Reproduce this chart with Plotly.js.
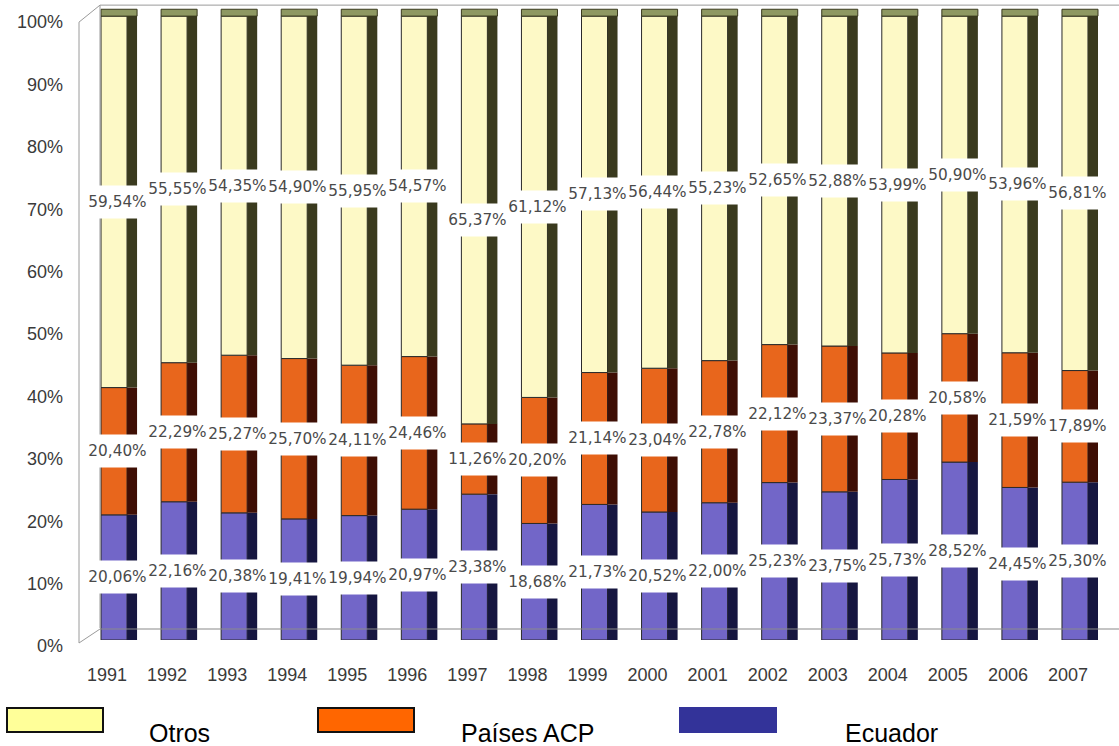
<!DOCTYPE html>
<html><head><meta charset="utf-8">
<script src="https://cdn.plot.ly/plotly-3.0.1.min.js"></script>
<style>body{margin:0;background:#fff}</style>
</head><body><div id="chart" style="width:1119px;height:746px"></div>
<script>
const years = ['1991','1992','1993','1994','1995','1996','1997','1998','1999','2000','2001','2002','2003','2004','2005','2006','2007'];
const ecuador = [20.06,22.16,20.38,19.41,19.94,20.97,23.38,18.68,21.73,20.52,22.00,25.23,23.75,25.73,28.52,24.45,25.30];
const acp     = [20.40,22.29,25.27,25.70,24.11,24.46,11.26,20.20,21.14,23.04,22.78,22.12,23.37,20.28,20.58,21.59,17.89];
const otros   = [59.54,55.55,54.35,54.90,55.95,54.57,65.37,61.12,57.13,56.44,55.23,52.65,52.88,53.99,50.90,53.96,56.81];
const seriesNames = ['Otros','Países ACP','Ecuador'];
const yTickVals = [0,10,20,30,40,50,60,70,80,90,100];
const yTickText = ['0%','10%','20%','30%','40%','50%','60%','70%','80%','90%','100%'];

const fmt = v => v.toFixed(2).replace('.', ',') + '%';
const baseE = years.map(() => 0);
const baseA = ecuador.slice();
const baseO = ecuador.map((v, i) => v + acp[i]);
const totals = baseO.map((v, i) => v + otros[i]);

const FW = 0.433, SW = 0.167, CAP = 1.1;
function front(vals, base, color) {
  return {type:'bar', x:years, y:vals, base:base, width:FW, offset:-FW/2,
    marker:{color:color, line:{color:'#2a2a2a', width:1}}, showlegend:false, hoverinfo:'skip'};
}
function side(vals, base, color) {
  return {type:'bar', x:years, y:vals, base:base, width:SW, offset:FW/2,
    marker:{color:color, line:{color:color, width:0}}, showlegend:false, hoverinfo:'skip'};
}
const traces = [
  front(ecuador, baseE, '#7266c8'), side(ecuador, baseE, '#161640'),
  front(acp, baseA, '#e8661c'), side(acp, baseA, '#3e0e04'),
  front(otros, baseO, '#fdf9c6'), side(otros, baseO, '#3a3a1e'),
  {type:'bar', x:years, y:years.map(() => CAP), base:totals, width:FW + SW, offset:-FW/2,
    marker:{color:'#8e9862', line:{color:'#3a3a1e', width:1}}, showlegend:false, hoverinfo:'skip'}
];

// geometry helpers (pixel -> paper)
const YMAX = 101.3;
const L = 84, W = 1021, B0 = 640, H = 624 * YMAX / 100, T = B0 - H;
const px = p => (p - L) / W;
const py = p => (B0 - p) / H;

const annotations = [];
const groups = [[ecuador, baseE], [acp, baseA], [otros, baseO]];
groups.forEach(([vals, base]) => {
  vals.forEach((v, i) => {
    annotations.push({x: i, y: base[i] + v / 2, xref:'x', yref:'y', text: fmt(v),
      showarrow:false, bgcolor:'#ffffff', width:59, height:32, borderpad:0, xshift:3,
      font:{family:'DejaVu Sans', size:15.3, color:'#4a4a4a'}});
  });
});

const gray = {color:'#9a9a9a', width:1};
const shapes = [
  {type:'line', xref:'paper', yref:'paper', x0:px(100), x1:px(100), y0:py(628), y1:py(5), line:gray},
  {type:'line', xref:'paper', yref:'paper', x0:px(100), x1:px(1119), y0:py(5), y1:py(5), line:gray},
  {type:'line', xref:'paper', yref:'paper', x0:px(100), x1:px(1119), y0:py(629), y1:py(629), line:{color:'#8a8a8a', width:1.2}},
  {type:'line', xref:'paper', yref:'paper', x0:px(79), x1:px(79), y0:py(643), y1:py(22), line:gray},
  {type:'line', xref:'paper', yref:'paper', x0:px(79), x1:px(100), y0:py(643), y1:py(629), line:gray},
  {type:'line', xref:'paper', yref:'paper', x0:px(79), x1:px(100), y0:py(22), y1:py(5), line:gray}
];

// legend (drawn)
const legendColors = ['#ffff99', '#ff6600', '#333399'];
const legendBorders = ['#111111', '#111111', '#333399'];
const legendRectX = [7, 318, 680];
const legendTextX = [147, 459, 843];
seriesNames.forEach((n, k) => {
  shapes.push({type:'rect', xref:'paper', yref:'paper', x0:px(legendRectX[k]), x1:px(legendRectX[k] + 96),
    y0:py(732), y1:py(708), fillcolor:legendColors[k], line:{color:legendBorders[k], width:2}});
  annotations.push({xref:'paper', yref:'paper', x:px(legendTextX[k]), y:py(733), xanchor:'left', yanchor:'middle',
    text:n, showarrow:false, font:{family:'Liberation Sans', size:25, color:'#000'}});
});

const layout = {
  width:1119, height:746, paper_bgcolor:'#fff', plot_bgcolor:'rgba(0,0,0,0)',
  margin:{l:L, r:1119 - L - W, t:T, b:746 - B0},
  barmode:'overlay', showlegend:false,
  xaxis:{type:'category', range:[-0.5, 16.5], showgrid:false, zeroline:false, showline:false, ticks:'',
    tickfont:{family:'Liberation Sans', size:18, color:'#3a3a3a'}, ticklabelshift:-7, ticklabelstandoff:22},
  yaxis:{range:[0, YMAX], tickvals:yTickVals, ticktext:yTickText, showgrid:false, zeroline:false, showline:false, ticks:'',
    tickfont:{family:'Liberation Sans', size:18, color:'#3a3a3a'}, ticklabelshift:6, ticklabelstandoff:20},
  annotations:annotations, shapes:shapes
};
Plotly.newPlot('chart', traces, layout, {staticPlot:true});
</script></body></html>
